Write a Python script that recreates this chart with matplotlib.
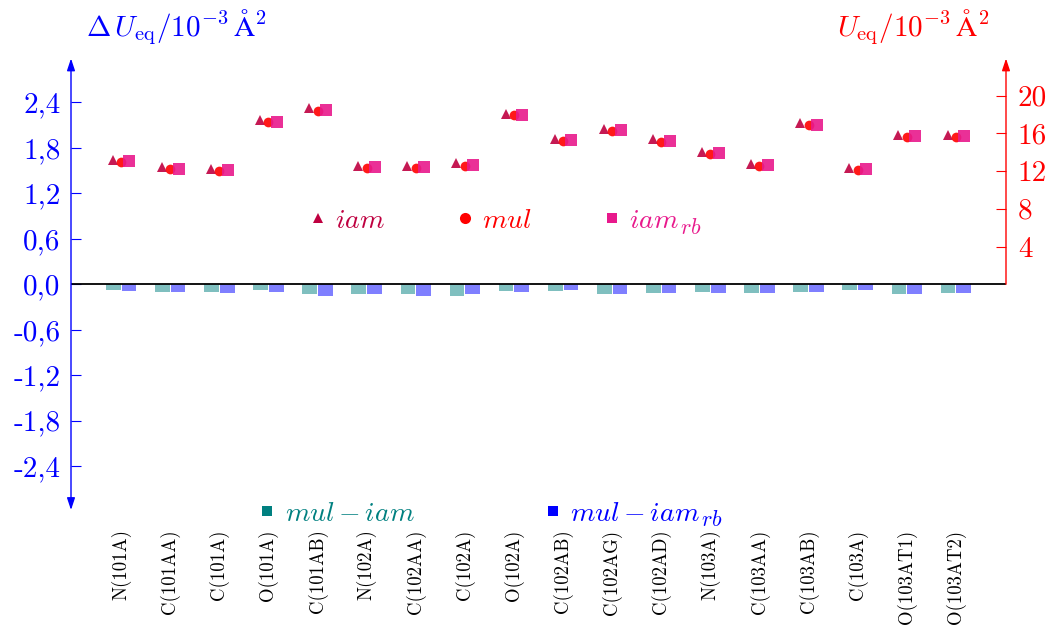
import numpy as np
import matplotlib
matplotlib.use('Agg')
import matplotlib.pyplot as plt
from matplotlib.lines import Line2D

# Dados
atomos = ['N(101A)', 'C(101AA)', 'C(101A)', 'O(101A)', 'C(101AB)', 'N(102A)',
          'C(102AA)', 'C(102A)', 'O(102A)', 'C(102AB)', 'C(102AG)', 'C(102AD)',
          'N(103A)', 'C(103AA)', 'C(103AB)', 'C(103A)', 'O(103AT1)', 'O(103AT2)']

# U_eq (eixo da direita)
u_iam = [13.19, 12.39, 12.21, 17.37, 18.64, 12.53, 12.57, 12.82, 18.08,
         15.39, 16.50, 15.36, 14.01, 12.74, 17.09, 12.31, 15.86, 15.84]
u_mul = [13.01, 12.20, 12.02, 17.18, 18.41, 12.27, 12.34, 12.58, 17.92,
         15.17, 16.26, 15.13, 13.79, 12.52, 16.86, 12.10, 15.63, 15.63]
u_iam_rb = [13.08, 12.26, 12.06, 17.25, 18.52, 12.39, 12.45, 12.68, 17.98,
            15.28, 16.39, 15.23, 13.90, 12.61, 16.92, 12.18, 15.75, 15.68]

# Delta U_eq (eixo da esquerda)
d_mul_iam = [-0.07, -0.10, -0.10, -0.07, -0.13, -0.13, -0.13, -0.15, -0.09,
             -0.09, -0.13, -0.12, -0.10, -0.12, -0.10, -0.08, -0.13, -0.12]
d_mul_iam_rb = [-0.09, -0.10, -0.12, -0.10, -0.16, -0.13, -0.15, -0.13, -0.10,
                -0.07, -0.13, -0.12, -0.12, -0.12, -0.10, -0.08, -0.13, -0.12]

ticks_esq = [-2.4, -1.8, -1.2, -0.6, 0.0, 0.6, 1.2, 1.8, 2.4]
ticks_dir = [4, 8, 12, 16, 20]

c_iam = '#BF0040'
c_mul = '#FF0000'
c_rb = '#E8198C'

plt.rcParams['mathtext.fontset'] = 'cm'
plt.rcParams['font.family'] = 'cmr10'
plt.rcParams['axes.unicode_minus'] = False

W, H = 1052, 628
fig = plt.figure(figsize=(W / 100, H / 100), dpi=100)


def fx(px):
    return px / W


def fy(py):
    return 1 - py / H


ax = fig.add_axes([fx(71), fy(510), (1006 - 71) / W, (510 - 58.5) / H])
x = np.arange(len(atomos))

# Barras das diferenças
ax.bar(x - 0.16, d_mul_iam, width=0.3, color='teal', alpha=0.5, linewidth=0)
ax.bar(x + 0.16, d_mul_iam_rb, width=0.3, color='blue', alpha=0.5, linewidth=0)
ax.axhline(0, color='black', lw=1.3, zorder=3)

ax.set_xlim(-1.02, 18.02)
ax.set_ylim(-2.98, 2.98)
ax.set_yticks(ticks_esq)
ax.set_yticklabels([f'{v:.1f}'.replace('.', ',') for v in ticks_esq])
ax.tick_params(axis='y', direction='in', length=7, width=0.8, colors='blue',
               labelsize=21, pad=7.5)
ax.set_xticks(x)
ax.set_xticklabels(atomos, rotation=90, fontsize=13.5)
ax.tick_params(axis='x', length=0, pad=14)
for s in ax.spines.values():
    s.set_visible(False)
ax.annotate('', xy=(0, 1), xytext=(0, 0), xycoords='axes fraction',
            arrowprops=dict(arrowstyle='<|-|>,head_length=0.6,head_width=0.2',
                            color='blue', lw=1, shrinkA=0, shrinkB=0,
                            mutation_scale=12))

# Eixo da direita: U_eq
ax2 = ax.twinx()
ax2.set_ylim(-23.93, 23.93)
ax2.plot(x - 0.17, u_iam, '^', color=c_iam, ms=6.5, mew=0, alpha=0.9)
ax2.plot(x, u_mul, 'o', color=c_mul, ms=7, mew=0, alpha=0.9)
ax2.plot(x + 0.17, u_iam_rb, 's', color=c_rb, ms=8, mew=0, alpha=0.9)
ax2.set_yticks(ticks_dir)
ax2.set_yticklabels([str(t) for t in ticks_dir])
ax2.tick_params(axis='y', direction='in', length=7, width=0.8, colors='red',
                labelsize=21, pad=8.5)
for s in ax2.spines.values():
    s.set_visible(False)
ax2.annotate('', xy=(1, 23.93), xytext=(1, 0), xycoords=('axes fraction', 'data'),
             arrowprops=dict(arrowstyle='-|>,head_length=0.6,head_width=0.2',
                             color='red', lw=1, shrinkA=0, shrinkB=0,
                             mutation_scale=12))

# Títulos dos eixos
fig.text(fx(176), fy(27), r'$\Delta\,U_{\mathrm{eq}}/10^{-3}\,\mathrm{Å}^2$',
         color='blue', fontsize=21, ha='center', va='center')
fig.text(fx(913), fy(27), r'$U_{\mathrm{eq}}/10^{-3}\,\mathrm{Å}^2$',
         color='red', fontsize=21, ha='center', va='center')

# Legendas feitas à mão (o índice rb vai num texto à parte, maior)
legendas = [('^', c_iam, r'$iam$', '', 317.7, 217.7, 335, 228.3, 7),
            ('o', c_mul, r'$mul$', '', 465, 218.3, 481.7, 228.3, 8),
            ('s', c_rb, r'$iam$', r'$rb$', 612.3, 218.3, 629.3, 228.3, 7.5),
            ('s', 'teal', r'$mul-iam$', '', 266.7, 511, 285, 520.7, 7),
            ('s', 'blue', r'$mul-iam$', r'$rb$', 553.3, 511, 570, 520.7, 7)]
renderer = fig.canvas.get_renderer()
for m, c, txt, sub, mx, my, tx, ty, ms in legendas:
    fig.add_artist(Line2D([fx(mx)], [fy(my)], transform=fig.transFigure,
                          marker=m, color=c, ms=ms, mew=0, linestyle='none'))
    t = fig.text(fx(tx), fy(ty), txt, color=c, fontsize=20, ha='left', va='baseline')
    if sub:
        bb = t.get_window_extent(renderer=renderer)
        fig.text(fx(bb.x1 + 1), fy(ty + 5.5), sub, color=c, fontsize=16,
                 ha='left', va='baseline')

fig.savefig('out.png', dpi=100)
